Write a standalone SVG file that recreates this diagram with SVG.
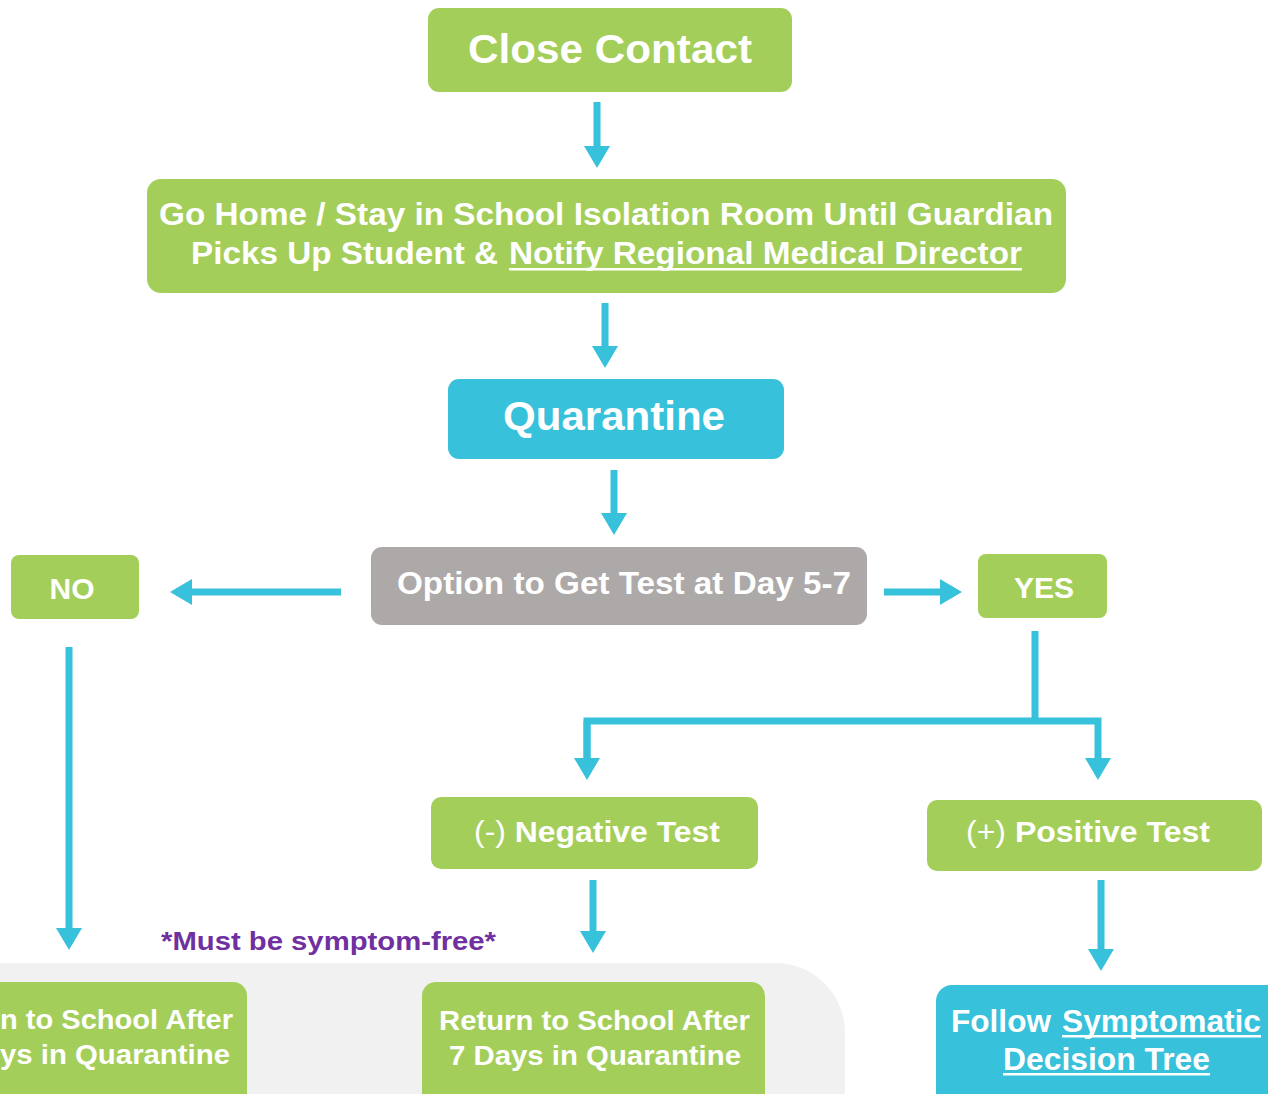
<svg xmlns="http://www.w3.org/2000/svg" width="1268" height="1094" viewBox="0 0 1268 1094">
<defs>
<marker id="ah" markerUnits="userSpaceOnUse" markerWidth="24" markerHeight="28" refX="0" refY="13" orient="auto">
<path d="M0,0 L22,13 L0,26 Z" fill="#38C1DA"/>
</marker>
<style>
.g{fill:#A4CE5A}
.b{fill:#38C1DA}
.gr{fill:#ADA9A8}
.t{font-family:"Liberation Sans",Arial,sans-serif;font-weight:bold;fill:#fff}
.c{stroke:#38C1DA;stroke-width:7;fill:none}
.u{fill:#fff}
</style>
</defs>
<rect width="1268" height="1094" fill="#fff"/>
<path d="M-10,963 H775 A70,70 0 0 1 845,1033 V1104 H-10 Z" fill="#F1F1F1"/>
<g id="connectors">
<line class="c" x1="597" y1="102" x2="597" y2="146" marker-end="url(#ah)"/>
<line class="c" x1="605" y1="303" x2="605" y2="346" marker-end="url(#ah)"/>
<line class="c" x1="614" y1="470" x2="614" y2="513" marker-end="url(#ah)"/>
<line class="c" x1="341" y1="592" x2="192" y2="592" marker-end="url(#ah)"/>
<line class="c" x1="884" y1="592" x2="940" y2="592" marker-end="url(#ah)"/>
<polyline class="c" points="1035,631 1035,721"/>
<polyline class="c" points="587,758 587,721 1098,721 1098,758" marker-end="url(#ah)"/>
<line class="c" x1="587" y1="721" x2="587" y2="758" marker-end="url(#ah)"/>
<line class="c" x1="69" y1="647" x2="69" y2="928" marker-end="url(#ah)"/>
<line class="c" x1="593" y1="880" x2="593" y2="931" marker-end="url(#ah)"/>
<line class="c" x1="1101" y1="880" x2="1101" y2="949" marker-end="url(#ah)"/>
</g>
<g id="close-contact">
<rect class="g" x="428" y="8" width="364" height="84" rx="11"/>
<text class="t" x="610" y="63" font-size="40" text-anchor="middle" textLength="284" lengthAdjust="spacingAndGlyphs">Close Contact</text>
</g>
<g id="go-home">
<rect class="g" x="147" y="179" width="919" height="114" rx="14"/>
<text class="t" x="159" y="225" font-size="31" textLength="894" lengthAdjust="spacingAndGlyphs">Go Home / Stay in School Isolation Room Until Guardian</text>
<text class="t" x="191" y="264" font-size="31" textLength="307" lengthAdjust="spacingAndGlyphs">Picks Up Student &amp;</text>
<text class="t" x="509" y="264" font-size="31" textLength="513" lengthAdjust="spacingAndGlyphs">Notify Regional Medical Director</text>
<rect class="u" x="509" y="268" width="513" height="2.5"/>
</g>
<g id="quarantine">
<rect class="b" x="448" y="379" width="336" height="80" rx="11"/>
<text class="t" x="614" y="430" font-size="40" text-anchor="middle" textLength="222" lengthAdjust="spacingAndGlyphs">Quarantine</text>
</g>
<g id="option">
<rect class="gr" x="371" y="547" width="496" height="78" rx="11"/>
<text class="t" x="397" y="594" font-size="32" textLength="454" lengthAdjust="spacingAndGlyphs">Option to Get Test at Day 5-7</text>
</g>
<g id="no">
<rect class="g" x="11" y="555" width="128" height="64" rx="8"/>
<text class="t" x="72" y="599" font-size="30" text-anchor="middle">NO</text>
</g>
<g id="yes">
<rect class="g" x="978" y="554" width="129" height="64" rx="8"/>
<text class="t" x="1044" y="598" font-size="30" text-anchor="middle">YES</text>
</g>
<g id="negative">
<rect class="g" x="431" y="797" width="327" height="72" rx="10"/>
<text class="t" x="474" y="842" font-size="30" textLength="246" lengthAdjust="spacingAndGlyphs"><tspan font-weight="normal">(-)</tspan> Negative Test</text>
</g>
<g id="positive">
<rect class="g" x="927" y="800" width="335" height="71" rx="10"/>
<text class="t" x="966" y="842" font-size="30" textLength="244" lengthAdjust="spacingAndGlyphs"><tspan font-weight="normal">(+)</tspan> Positive Test</text>
</g>
<g id="note">
<text x="161" y="950" font-family="Liberation Sans,Arial,sans-serif" font-weight="bold" font-size="26" fill="#7030A0" textLength="335" lengthAdjust="spacingAndGlyphs">*Must be symptom-free*</text>
</g>
<g id="return-left">
<rect class="g" x="-30" y="982" width="277" height="130" rx="14"/>
<text class="t" x="0" y="1029" font-size="28" textLength="233" lengthAdjust="spacingAndGlyphs">n to School After</text>
<text class="t" x="0" y="1064" font-size="28" textLength="230" lengthAdjust="spacingAndGlyphs">ys in Quarantine</text>
</g>
<g id="return-7">
<rect class="g" x="422" y="982" width="343" height="130" rx="14"/>
<text class="t" x="439" y="1030" font-size="28" textLength="311" lengthAdjust="spacingAndGlyphs">Return to School After</text>
<text class="t" x="449" y="1065" font-size="28" textLength="292" lengthAdjust="spacingAndGlyphs">7 Days in Quarantine</text>
</g>
<g id="follow">
<rect class="b" x="936" y="985" width="350" height="130" rx="16"/>
<text class="t" x="951" y="1032" font-size="31" textLength="100" lengthAdjust="spacingAndGlyphs">Follow</text>
<text class="t" x="1062" y="1032" font-size="31" textLength="199" lengthAdjust="spacingAndGlyphs">Symptomatic</text>
<rect class="u" x="1062" y="1035" width="199" height="2.5"/>
<text class="t" x="1003" y="1070" font-size="31" textLength="207" lengthAdjust="spacingAndGlyphs">Decision Tree</text>
<rect class="u" x="1003" y="1073" width="207" height="2.5"/>
</g>
</svg>
